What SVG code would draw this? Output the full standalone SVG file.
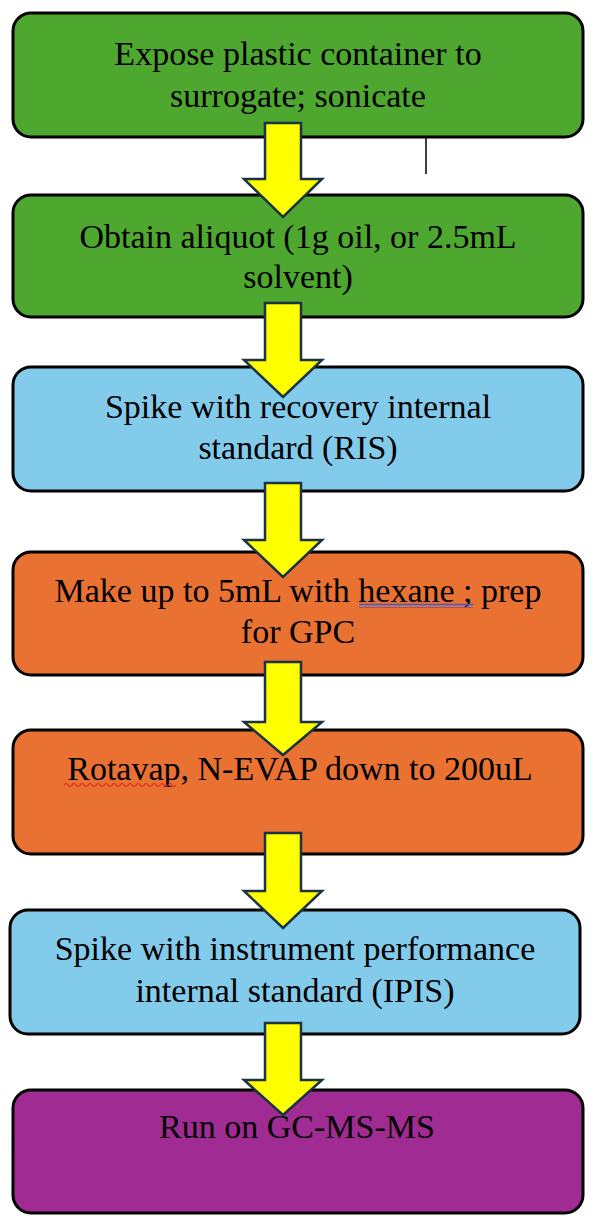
<svg xmlns="http://www.w3.org/2000/svg" width="605" height="1220" viewBox="0 0 605 1220">
<style>
.box{stroke:#000;stroke-width:3}
.green{fill:#4ea72e}
.blue{fill:#83cbeb}
.orange{fill:#e97132}
.purple{fill:#a02b93}
.lbl{font-size:34px;fill:#000;text-anchor:middle}
.arrow{fill:#ffff00;stroke:#1b3344;stroke-width:2.5;stroke-linejoin:miter}
</style>
<rect width="605" height="1220" fill="#fff"/>
<g id="nodes" font-family="'Liberation Serif', 'DejaVu Serif', serif">
<g id="n1"><rect class="box green" x="13" y="13" width="570" height="124" rx="18"/>
<text class="lbl" x="298" y="65">Expose plastic container to</text>
<text class="lbl" x="298" y="107">surrogate; sonicate</text></g>
<g id="n2"><rect class="box green" x="13" y="195" width="570" height="122" rx="18"/>
<text class="lbl" x="298" y="248">Obtain aliquot (1g oil, or 2.5mL</text>
<text class="lbl" x="298" y="288">solvent)</text></g>
<g id="n3"><rect class="box blue" x="13" y="367" width="570" height="124" rx="18"/>
<text class="lbl" x="298" y="418">Spike with recovery internal</text>
<text class="lbl" x="298" y="459">standard (RIS)</text></g>
<g id="n4"><rect class="box orange" x="13" y="552" width="570" height="123" rx="18"/>
<text class="lbl" x="298" y="602">Make up to 5mL with hexane ; prep</text>
<text class="lbl" x="298" y="643">for GPC</text>
<line x1="359" y1="604.5" x2="473" y2="604.5" stroke="#3a5fd0" stroke-width="1.5"/>
<line x1="359" y1="607.5" x2="473" y2="607.5" stroke="#8a5a8a" stroke-width="1.2"/></g>
<g id="n5"><rect class="box orange" x="13" y="730" width="570" height="124" rx="18"/>
<text class="lbl" x="300" y="780">Rotavap, N-EVAP down to 200uL</text>
<path d="M64 785 q2 -3 4 0 t4 0 t4 0 t4 0 t4 0 t4 0 t4 0 t4 0 t4 0 t4 0 t4 0 t4 0 t4 0 t4 0 t4 0 t4 0 t4 0 t4 0 t4 0 t4 0 t4 0 t4 0 t4 0 t4 0 t4 0 t4 0 t4 0 t4 0" fill="none" stroke="#e02020" stroke-width="1.2"/></g>
<g id="n6"><rect class="box blue" x="10" y="910" width="570" height="124" rx="18"/>
<text class="lbl" x="295" y="960">Spike with instrument performance</text>
<text class="lbl" x="295" y="1002">internal standard (IPIS)</text></g>
<g id="n7"><rect class="box purple" x="13" y="1090" width="570" height="123" rx="18"/>
<text class="lbl" x="297" y="1138">Run on GC-MS-MS</text></g>
<line id="mark" x1="426" y1="138" x2="426" y2="174" stroke="#000" stroke-width="1.5"/>
</g>
<g id="connectors">
<path class="arrow" d="M265 123 H301 V179 H322 L283 217 L244 179 H265 Z"/>
<path class="arrow" d="M265 303 H301 V360 H322 L283 397 L244 360 H265 Z"/>
<path class="arrow" d="M265 483 H301 V540 H322 L283 577 L244 540 H265 Z"/>
<path class="arrow" d="M265 662 H301 V722 H322 L283 755 L244 722 H265 Z"/>
<path class="arrow" d="M265 833 H301 V891 H322 L283 928 L244 891 H265 Z"/>
<path class="arrow" d="M265 1023 H301 V1080 H322 L283 1115 L244 1080 H265 Z"/>
</g>
</svg>
